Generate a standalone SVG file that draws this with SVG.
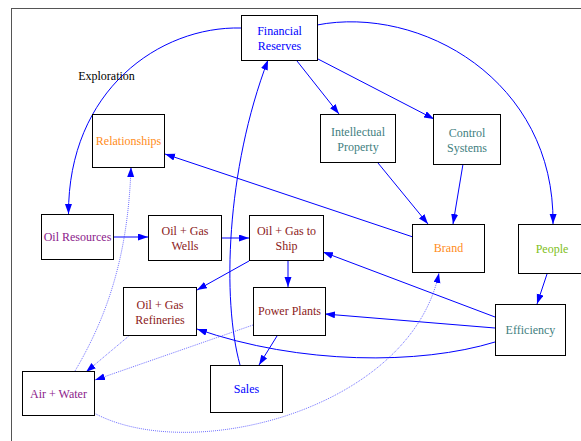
<svg xmlns="http://www.w3.org/2000/svg" width="581" height="441" viewBox="0 0 581 441" font-family="'Liberation Serif','Times New Roman',serif">
<defs>
<style>
.n rect{fill:#fff;stroke:#000;stroke-width:1}
text{font-family:"Liberation Serif","Times New Roman",serif;font-size:12px;text-anchor:middle}
.e path{fill:none;stroke:#0000ff;stroke-width:1}
.e path.d{stroke-dasharray:1,1;stroke-width:0.7;stroke:#3333ff}
.blue{fill:#0000ff}.orange{fill:#ff8c1a}.teal{fill:#3f8080}.purple{fill:#8b1a8b}.red{fill:#8b1a1a}.green{fill:#80c020}
</style>
<marker id="a" markerUnits="userSpaceOnUse" markerWidth="10" markerHeight="8" refX="10" refY="3.5" orient="auto">
<path d="M0,0 L10,3.5 L0,7 z" fill="#0000ff"/>
</marker>
</defs>
<rect width="581" height="441" fill="#fff"/>
<rect x="11.5" y="8.5" width="620" height="480" fill="none" stroke="#555" stroke-width="1"/>
<g class="e" id="edges">
<path d="M241,28 C160,26 68,90 68.5,214" marker-end="url(#a)"/>
<path d="M317,25 C420,5 555,80 553,224" marker-end="url(#a)"/>
<path d="M297,61 L339,114" marker-end="url(#a)"/>
<path d="M318,59 L434,119" marker-end="url(#a)"/>
<path d="M378,163 L428,224" marker-end="url(#a)"/>
<path d="M463,164 L453,224" marker-end="url(#a)"/>
<path d="M413,237 L165,154" marker-end="url(#a)"/>
<path d="M113,237 L148,237" marker-end="url(#a)"/>
<path d="M221,238 L249,238" marker-end="url(#a)"/>
<path d="M249,261 L197,290" marker-end="url(#a)"/>
<path d="M288,261 L288,287" marker-end="url(#a)"/>
<path d="M240,365 C222,300 226,170 268,60" marker-end="url(#a)"/>
<path d="M277,336 L259,365" marker-end="url(#a)"/>
<path d="M495,328 L325,314" marker-end="url(#a)"/>
<path d="M495,317 L323,252" marker-end="url(#a)"/>
<path d="M495,342 C420,365 300,365 197,329" marker-end="url(#a)"/>
<path d="M547,274 L537,304" marker-end="url(#a)"/>
<path class="d" d="M130,335 L86,372" marker-end="url(#a)"/>
<path class="d" d="M253,325 L95,380" marker-end="url(#a)"/>
<path class="d" d="M75,371 C105,320 128,260 131,167" marker-end="url(#a)"/>
<path class="d" d="M94,413 C190,465 410,410 439,273" marker-end="url(#a)"/>
</g>
<text x="106.5" y="80">Exploration</text>
<g class="n" id="financial"><rect x="241.5" y="15.5" width="76" height="45"/><text class="blue" x="279.5" y="35">Financial</text><text class="blue" x="279.5" y="50">Reserves</text></g>
<g class="n" id="relationships"><rect x="92.5" y="114.5" width="72" height="53"/><text class="orange" x="128.5" y="145">Relationships</text></g>
<g class="n" id="ip"><rect x="320.5" y="114.5" width="75" height="48"/><text class="teal" x="358" y="136">Intellectual</text><text class="teal" x="358" y="151">Property</text></g>
<g class="n" id="control"><rect x="433.5" y="114.5" width="67" height="50"/><text class="teal" x="467" y="137">Control</text><text class="teal" x="467" y="152">Systems</text></g>
<g class="n" id="oilres"><rect x="41.5" y="214.5" width="72" height="45"/><text class="purple" x="77.5" y="241">Oil Resources</text></g>
<g class="n" id="wells"><rect x="148.5" y="215.5" width="73" height="45"/><text class="red" x="185" y="235">Oil + Gas</text><text class="red" x="185" y="250">Wells</text></g>
<g class="n" id="ship"><rect x="249.5" y="215.5" width="74" height="45"/><text class="red" x="286.5" y="235">Oil + Gas to</text><text class="red" x="286.5" y="250">Ship</text></g>
<g class="n" id="refineries"><rect x="123.5" y="287.5" width="73" height="48"/><text class="red" x="160" y="309">Oil + Gas</text><text class="red" x="160" y="324">Refineries</text></g>
<g class="n" id="power"><rect x="253.5" y="287.5" width="72" height="48"/><text class="red" x="289.5" y="315">Power Plants</text></g>
<g class="n" id="airwater"><rect x="22.5" y="371.5" width="72" height="44"/><text class="purple" x="58.5" y="398">Air + Water</text></g>
<g class="n" id="sales"><rect x="210.5" y="365.5" width="72" height="47"/><text class="blue" x="246.5" y="393">Sales</text></g>
<g class="n" id="brand"><rect x="412.5" y="224.5" width="72" height="48"/><text class="orange" x="448.5" y="252">Brand</text></g>
<g class="n" id="people"><rect x="518.5" y="224.5" width="70" height="49"/><text class="green" x="552" y="253">People</text></g>
<g class="n" id="efficiency"><rect x="495.5" y="304.5" width="70" height="51"/><text class="teal" x="530.5" y="334">Efficiency</text></g>
</svg>
